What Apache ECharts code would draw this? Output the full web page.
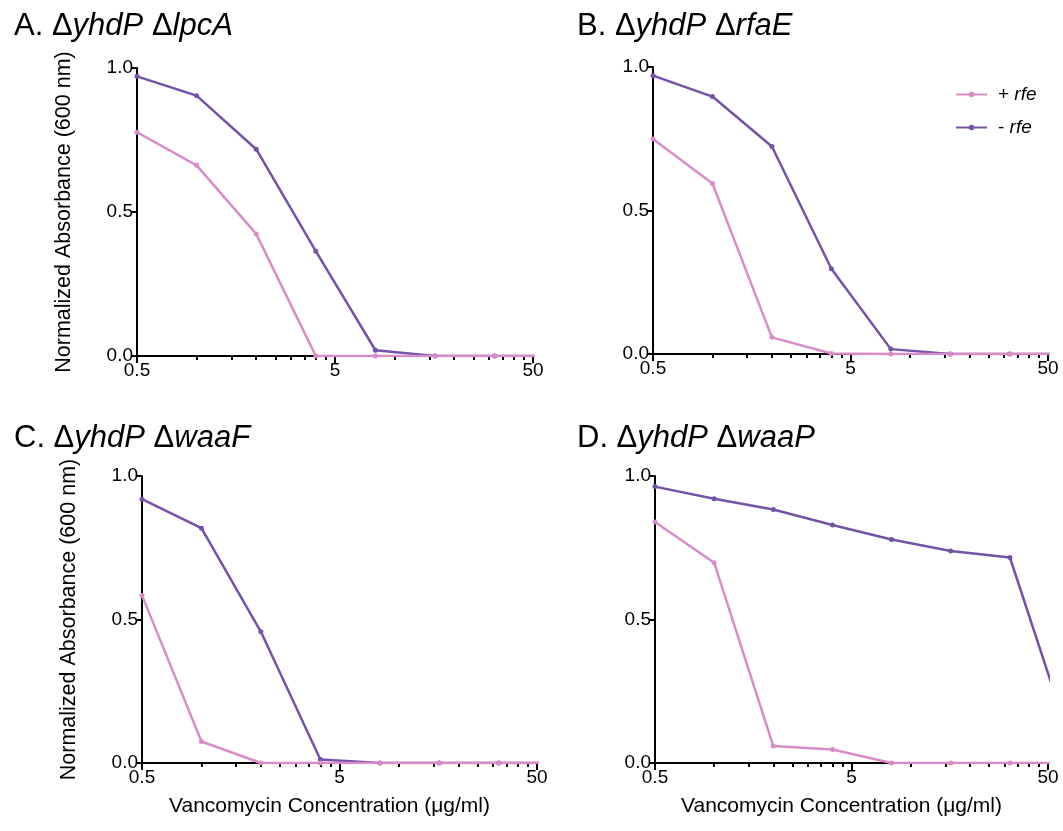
<!DOCTYPE html>
<html>
<head>
<meta charset="utf-8">
<script src="https://cdn.jsdelivr.net/npm/echarts@6/dist/echarts.min.js"></script>
<style>
html,body{margin:0;padding:0;background:#fff;}
#chart{width:1063px;height:831px;}
</style>
</head>
<body>
<div id="chart"></div>
<script>
// ---- data ----
const concentrations = [0.5, 1, 2, 4, 8, 16, 32, 64];
const seriesNames = ['+ rfe', '- rfe'];
const panelTitles = ['A', 'B', 'C', 'D'];
const panelGenes = ['lpcA', 'rfaE', 'waaF', 'waaP'];

const plusA  = [0.777, 0.662, 0.424, 0, 0, 0, 0, 0];
const minusA = [0.971, 0.904, 0.718, 0.364, 0.02, 0, 0, 0];
const plusB  = [0.749, 0.594, 0.058, 0.002, 0, 0, 0, 0];
const minusB = [0.970, 0.897, 0.723, 0.297, 0.017, 0, 0, 0];
const plusC  = [0.584, 0.075, 0, 0, 0, 0, 0, 0];
const minusC = [0.919, 0.818, 0.457, 0.012, 0, 0, 0, 0];
const plusD  = [0.840, 0.698, 0.059, 0.047, 0, 0, 0, 0];
const minusD = [0.963, 0.921, 0.883, 0.829, 0.779, 0.739, 0.716, 0.09];

const xTickLabels = ['0.5', '5', '50'];
const xMinorTicks = [1, 1.5, 2, 2.5, 3, 3.5, 4, 4.5, 10, 15, 20, 25, 30, 35, 40, 45];
const yTickLabels = ['0.0', '0.5', '1.0'];

const yName = 'Normalized Absorbance (600 nm)';
const xName = 'Vancomycin Concentration (\u03bcg/ml)';

// ---- layout ----
const FONT = 'Arial, "Liberation Sans", Helvetica, sans-serif';
const PINK = '#DA8CC8';
const PURPLE = '#7452A8';
const grids = [
  {left: 137, top: 68, width: 396, height: 288},
  {left: 653, top: 67, width: 395, height: 287},
  {left: 142, top: 476, width: 395, height: 287},
  {left: 655, top: 476, width: 393, height: 287}
];
const titlePos = [
  {left: 9, top: 6},
  {left: 572, top: 6},
  {left: 9, top: 418},
  {left: 572, top: 418}
];
const plusData = [plusA, plusB, plusC, plusD];
const minusData = [minusA, minusB, minusC, minusD];

const xMin = 0.5, xMax = 50;
const decades = Math.log10(xMax / xMin);

const option = {
  animation: false,
  backgroundColor: '#fff',
  textStyle: {fontFamily: FONT},
  title: [],
  grid: [],
  xAxis: [],
  yAxis: [],
  series: [],
  legend: {
    data: seriesNames,
    orient: 'vertical',
    left: 950,
    top: 80,
    itemWidth: 31,
    itemHeight: 7,
    itemGap: 14,
    textStyle: {
      fontFamily: FONT, fontSize: 19, color: '#000',
      padding: [0, 0, 0, 6],
      rich: {i: {fontStyle: 'italic', fontSize: 19, fontFamily: FONT, color: '#000'}}
    },
    formatter: function (name) {
      return name.replace('rfe', '{i|rfe}');
    }
  }
};

grids.forEach(function (g, p) {
  option.grid.push(Object.assign({containLabel: false, outerBoundsMode: 'none'}, g));
  option.title.push({
    left: titlePos[p].left, top: titlePos[p].top,
    text: '{n|' + panelTitles[p] + '. \u0394}{i|yhdP}{n| \u0394}{i|' + panelGenes[p] + '}',
    textStyle: {
      fontWeight: 'normal',
      rich: {
        n: {fontFamily: FONT, fontSize: 31, color: '#000', fontWeight: 'normal'},
        i: {fontFamily: FONT, fontSize: 31, color: '#000', fontStyle: 'italic', fontWeight: 'normal'}
      }
    }
  });
  const base = option.xAxis.length;
  // data axis (log)
  option.xAxis.push({
    type: 'log', logBase: 10, gridIndex: p, min: xMin, max: xMax, position: 'bottom',
    axisLine: {show: false}, axisTick: {show: false}, axisLabel: {show: false}, splitLine: {show: false}
  });
  // major ticks & labels, in decades from min
  option.xAxis.push({
    type: 'value', gridIndex: p, min: 0, max: decades, interval: 1, position: 'bottom',
    axisLine: {show: true, onZero: false, lineStyle: {color: '#000', width: 2}},
    axisTick: {show: true, length: 7, lineStyle: {color: '#000', width: 2}},
    axisLabel: {
      show: true, margin: 5, color: '#000', fontSize: 19, fontFamily: FONT,
      formatter: function (v, i) { return xTickLabels[i]; }
    },
    splitLine: {show: false},
    name: (p >= 2) ? xName : '',
    nameLocation: 'middle', nameGap: 33,
    nameTextStyle: {fontFamily: FONT, fontSize: 21, color: '#000', padding: [0, 20, 0, 0]}
  });
  // minor ticks
  option.xAxis.push({
    type: 'value', gridIndex: p, min: 0, max: decades, position: 'bottom',
    axisLine: {show: false, onZero: false},
    axisTick: {show: true, length: 4, lineStyle: {color: '#000', width: 2},
      customValues: xMinorTicks.map(function (t) { return Math.log10(t / xMin); })},
    axisLabel: {show: false},
    splitLine: {show: false}
  });
  option.yAxis.push({
    type: 'value', gridIndex: p, min: 0, max: 1, interval: 0.5, position: 'left',
    axisLine: {show: true, onZero: false, lineStyle: {color: '#000', width: 2}},
    axisTick: {show: true, length: 6, lineStyle: {color: '#000', width: 2}},
    axisLabel: {
      margin: 4, color: '#000', fontSize: 19, fontFamily: FONT,
      formatter: function (v, i) { return yTickLabels[i]; }
    },
    splitLine: {show: false},
    name: (p % 2 === 0) ? yName : '',
    nameLocation: 'middle', nameGap: 62,
    nameTextStyle: {fontFamily: FONT, fontSize: 21.5, color: '#000'}
  });
  const mk = function (name, vals, color) {
    return {
      name: name, type: 'line', xAxisIndex: base, yAxisIndex: p,
      data: concentrations.map(function (c, k) { return [c, vals[k]]; }),
      symbol: 'circle', symbolSize: 5, showSymbol: true, clip: true,
      itemStyle: {color: color},
      lineStyle: {color: color, width: 2.5},
      emphasis: {disabled: true}
    };
  };
  option.series.push(mk(seriesNames[1], minusData[p], PURPLE));
  option.series.push(mk(seriesNames[0], plusData[p], PINK));
});

const chart = echarts.init(document.getElementById('chart'), null, {renderer: 'canvas'});
chart.setOption(option);
</script>
</body>
</html>
